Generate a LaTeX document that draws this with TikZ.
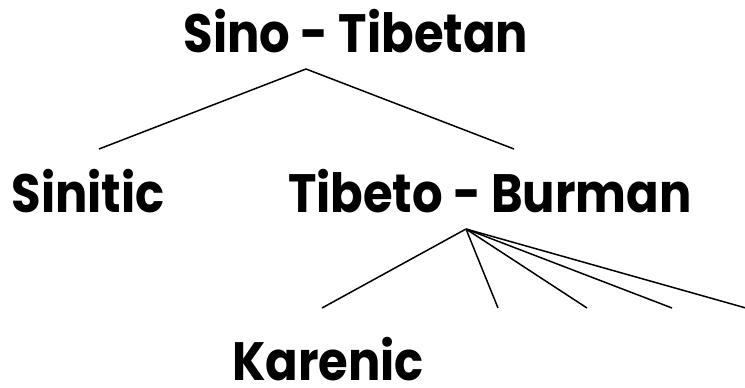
\documentclass[tikz,border=0pt]{standalone}
\usepackage{fontspec}
\setmainfont{Poppins}[FakeStretch=0.89]
\usetikzlibrary{positioning}

\begin{document}
\begin{tikzpicture}[x=1pt, y=-1pt,
    lang/.style = {font=\bfseries\fontsize{54}{58}\selectfont, inner sep=0pt, anchor=base},
    branch/.style = {line width=1.5pt}]
  \useasboundingbox (0,0) rectangle (745,388);

  % labelled nodes
  \node[lang] (st) at (356,52) {Sino - Tibetan};
  \node[lang] (sin) at (88,212) {Sinitic};
  \node[lang] (tb) at (490,212) {Tibeto - Burman};
  \node[lang] (kar) at (328,380) {Karenic};

  % branch points
  \coordinate (st-top) at (306,69);
  \coordinate (sin-top) at (99,149);
  \coordinate (tb-top) at (514,149);
  \coordinate (tb-bot) at (466,229);
  \coordinate (kar-top) at (322,308);
  \coordinate (b2) at (498,308);
  \coordinate (b3) at (587,308);
  \coordinate (b4) at (672,308);
  \coordinate (b5) at (760,312);

  \draw[branch] (sin-top) -- (st-top) -- (tb-top);
  \draw[branch] (kar-top) -- (tb-bot);
  \foreach \b in {b2,b3,b4,b5}
    \draw[branch] (tb-bot) -- (\b);
\end{tikzpicture}
\end{document}
